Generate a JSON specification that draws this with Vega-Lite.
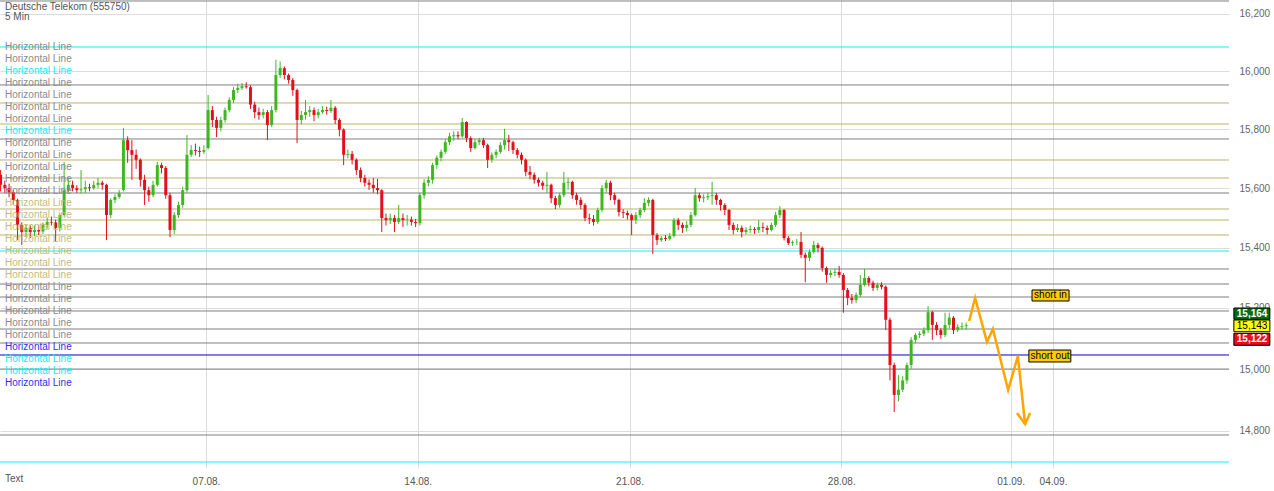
{
"$schema": "https://vega.github.io/schema/vega-lite/v6.json",
"width": 1229, "height": 468,
"autosize": {"type": "none"},
"padding": {"left": 0, "top": 0, "right": 45, "bottom": 23},
"background": "white",
"config": {"view": {"stroke": null}, "font": "Liberation Sans"},
"datasets": {
"candles": [
{"t":0.15,"o":15645,"h":15661,"l":15589,"c":15611},
{"t":0.25,"o":15611,"h":15625,"l":15584,"c":15600},
{"t":0.35,"o":15600,"h":15615,"l":15569,"c":15586},
{"t":0.45,"o":15586,"h":15594,"l":15544,"c":15560},
{"t":0.55,"o":15560,"h":15564,"l":15425,"c":15476},
{"t":0.65,"o":15476,"h":15484,"l":15409,"c":15452},
{"t":0.75,"o":15452,"h":15479,"l":15439,"c":15466},
{"t":0.85,"o":15466,"h":15474,"l":15432,"c":15452},
{"t":0.95,"o":15452,"h":15474,"l":15439,"c":15459},
{"t":1.05,"o":15459,"h":15476,"l":15442,"c":15454},
{"t":1.15,"o":15454,"h":15484,"l":15446,"c":15476},
{"t":1.25,"o":15476,"h":15499,"l":15464,"c":15486},
{"t":1.35,"o":15486,"h":15504,"l":15474,"c":15484},
{"t":1.45,"o":15484,"h":15494,"l":15419,"c":15466},
{"t":1.55,"o":15466,"h":15514,"l":15454,"c":15509},
{"t":1.65,"o":15509,"h":15689,"l":15504,"c":15593},
{"t":1.75,"o":15593,"h":15635,"l":15584,"c":15611},
{"t":1.85,"o":15611,"h":15625,"l":15589,"c":15600},
{"t":1.95,"o":15600,"h":15610,"l":15584,"c":15593},
{"t":2.05,"o":15593,"h":15661,"l":15582,"c":15596},
{"t":2.15,"o":15596,"h":15625,"l":15584,"c":15603},
{"t":2.25,"o":15603,"h":15615,"l":15589,"c":15600},
{"t":2.35,"o":15600,"h":15625,"l":15594,"c":15611},
{"t":2.45,"o":15611,"h":15635,"l":15599,"c":15618},
{"t":2.55,"o":15618,"h":15625,"l":15594,"c":15611},
{"t":2.65,"o":15611,"h":15615,"l":15425,"c":15509},
{"t":2.75,"o":15509,"h":15566,"l":15499,"c":15560},
{"t":2.85,"o":15560,"h":15579,"l":15549,"c":15570},
{"t":2.95,"o":15570,"h":15594,"l":15564,"c":15583},
{"t":3.05,"o":15594,"h":15805,"l":15589,"c":15763},
{"t":3.15,"o":15763,"h":15776,"l":15686,"c":15729},
{"t":3.25,"o":15729,"h":15763,"l":15628,"c":15713},
{"t":3.35,"o":15713,"h":15731,"l":15665,"c":15696},
{"t":3.45,"o":15696,"h":15701,"l":15605,"c":15628},
{"t":3.55,"o":15628,"h":15645,"l":15543,"c":15593},
{"t":3.65,"o":15593,"h":15605,"l":15554,"c":15576},
{"t":3.75,"o":15576,"h":15625,"l":15569,"c":15611},
{"t":3.85,"o":15611,"h":15689,"l":15605,"c":15678},
{"t":3.95,"o":15678,"h":15686,"l":15650,"c":15668},
{"t":4.05,"o":15668,"h":15675,"l":15564,"c":15576},
{"t":4.15,"o":15576,"h":15584,"l":15435,"c":15459},
{"t":4.25,"o":15459,"h":15519,"l":15446,"c":15509},
{"t":4.35,"o":15509,"h":15554,"l":15499,"c":15543},
{"t":4.45,"o":15543,"h":15605,"l":15534,"c":15593},
{"t":4.55,"o":15593,"h":15780,"l":15584,"c":15713},
{"t":4.65,"o":15713,"h":15746,"l":15706,"c":15729},
{"t":4.75,"o":15729,"h":15751,"l":15711,"c":15726},
{"t":4.85,"o":15726,"h":15741,"l":15706,"c":15723},
{"t":4.95,"o":15723,"h":15746,"l":15716,"c":15729},
{"t":5.05,"o":15736,"h":15918,"l":15731,"c":15866},
{"t":5.15,"o":15866,"h":15880,"l":15808,"c":15832},
{"t":5.25,"o":15832,"h":15843,"l":15773,"c":15805},
{"t":5.35,"o":15805,"h":15843,"l":15793,"c":15832},
{"t":5.45,"o":15832,"h":15875,"l":15823,"c":15866},
{"t":5.55,"o":15866,"h":15910,"l":15858,"c":15901},
{"t":5.65,"o":15901,"h":15945,"l":15890,"c":15935},
{"t":5.75,"o":15935,"h":15957,"l":15925,"c":15942},
{"t":5.85,"o":15942,"h":15960,"l":15935,"c":15948},
{"t":5.95,"o":15948,"h":15962,"l":15940,"c":15945},
{"t":6.05,"o":15945,"h":15952,"l":15870,"c":15885},
{"t":6.15,"o":15885,"h":15895,"l":15838,"c":15859},
{"t":6.25,"o":15859,"h":15875,"l":15833,"c":15849},
{"t":6.35,"o":15849,"h":15870,"l":15838,"c":15859},
{"t":6.45,"o":15859,"h":15866,"l":15763,"c":15815},
{"t":6.55,"o":15815,"h":15880,"l":15808,"c":15866},
{"t":6.65,"o":15866,"h":16040,"l":15858,"c":15987},
{"t":6.75,"o":15987,"h":16034,"l":15977,"c":16011},
{"t":6.85,"o":16011,"h":16017,"l":15972,"c":15987},
{"t":6.95,"o":15987,"h":15992,"l":15957,"c":15970},
{"t":7.05,"o":15970,"h":15977,"l":15915,"c":15935},
{"t":7.15,"o":15935,"h":15940,"l":15753,"c":15832},
{"t":7.25,"o":15832,"h":15863,"l":15818,"c":15849},
{"t":7.35,"o":15849,"h":15901,"l":15833,"c":15859},
{"t":7.45,"o":15859,"h":15880,"l":15843,"c":15866},
{"t":7.55,"o":15866,"h":15875,"l":15828,"c":15849},
{"t":7.65,"o":15849,"h":15870,"l":15838,"c":15859},
{"t":7.75,"o":15859,"h":15880,"l":15853,"c":15866},
{"t":7.85,"o":15866,"h":15878,"l":15850,"c":15863},
{"t":7.95,"o":15863,"h":15901,"l":15856,"c":15874},
{"t":8.05,"o":15874,"h":15880,"l":15818,"c":15832},
{"t":8.15,"o":15832,"h":15838,"l":15776,"c":15799},
{"t":8.25,"o":15799,"h":15803,"l":15678,"c":15713},
{"t":8.35,"o":15713,"h":15731,"l":15701,"c":15716},
{"t":8.45,"o":15716,"h":15726,"l":15680,"c":15696},
{"t":8.55,"o":15696,"h":15701,"l":15645,"c":15661},
{"t":8.65,"o":15661,"h":15670,"l":15620,"c":15634},
{"t":8.75,"o":15634,"h":15645,"l":15605,"c":15618},
{"t":8.85,"o":15618,"h":15630,"l":15594,"c":15611},
{"t":8.95,"o":15611,"h":15634,"l":15584,"c":15600},
{"t":9.05,"o":15600,"h":15631,"l":15579,"c":15593},
{"t":9.15,"o":15593,"h":15596,"l":15452,"c":15499},
{"t":9.25,"o":15499,"h":15514,"l":15474,"c":15492},
{"t":9.35,"o":15492,"h":15514,"l":15479,"c":15499},
{"t":9.45,"o":15499,"h":15509,"l":15452,"c":15486},
{"t":9.55,"o":15486,"h":15543,"l":15479,"c":15499},
{"t":9.65,"o":15499,"h":15514,"l":15469,"c":15492},
{"t":9.75,"o":15492,"h":15509,"l":15474,"c":15494},
{"t":9.85,"o":15494,"h":15504,"l":15474,"c":15486},
{"t":9.95,"o":15486,"h":15496,"l":15469,"c":15482},
{"t":10.05,"o":15482,"h":15584,"l":15474,"c":15576},
{"t":10.15,"o":15576,"h":15630,"l":15564,"c":15618},
{"t":10.25,"o":15618,"h":15640,"l":15605,"c":15628},
{"t":10.35,"o":15628,"h":15686,"l":15615,"c":15678},
{"t":10.45,"o":15678,"h":15711,"l":15665,"c":15703},
{"t":10.55,"o":15703,"h":15731,"l":15691,"c":15723},
{"t":10.65,"o":15723,"h":15766,"l":15716,"c":15756},
{"t":10.75,"o":15756,"h":15788,"l":15746,"c":15776},
{"t":10.85,"o":15776,"h":15793,"l":15761,"c":15780},
{"t":10.95,"o":15780,"h":15793,"l":15766,"c":15776},
{"t":11.05,"o":15776,"h":15839,"l":15771,"c":15825},
{"t":11.15,"o":15825,"h":15828,"l":15756,"c":15770},
{"t":11.25,"o":15770,"h":15776,"l":15723,"c":15736},
{"t":11.35,"o":15736,"h":15766,"l":15731,"c":15756},
{"t":11.45,"o":15756,"h":15771,"l":15746,"c":15763},
{"t":11.55,"o":15763,"h":15771,"l":15736,"c":15746},
{"t":11.65,"o":15746,"h":15751,"l":15668,"c":15696},
{"t":11.75,"o":15696,"h":15721,"l":15686,"c":15713},
{"t":11.85,"o":15713,"h":15731,"l":15701,"c":15723},
{"t":11.95,"o":15723,"h":15756,"l":15716,"c":15746},
{"t":12.05,"o":15746,"h":15802,"l":15731,"c":15763},
{"t":12.15,"o":15763,"h":15781,"l":15726,"c":15756},
{"t":12.25,"o":15756,"h":15761,"l":15716,"c":15729},
{"t":12.35,"o":15729,"h":15736,"l":15701,"c":15713},
{"t":12.45,"o":15713,"h":15721,"l":15680,"c":15696},
{"t":12.55,"o":15696,"h":15701,"l":15640,"c":15655},
{"t":12.65,"o":15655,"h":15675,"l":15630,"c":15645},
{"t":12.75,"o":15645,"h":15653,"l":15615,"c":15628},
{"t":12.85,"o":15628,"h":15635,"l":15605,"c":15618},
{"t":12.95,"o":15618,"h":15625,"l":15594,"c":15608},
{"t":13.05,"o":15608,"h":15655,"l":15584,"c":15611},
{"t":13.15,"o":15611,"h":15615,"l":15549,"c":15566},
{"t":13.25,"o":15566,"h":15574,"l":15529,"c":15543},
{"t":13.35,"o":15543,"h":15584,"l":15534,"c":15576},
{"t":13.45,"o":15576,"h":15655,"l":15569,"c":15618},
{"t":13.55,"o":15618,"h":15635,"l":15594,"c":15621},
{"t":13.65,"o":15621,"h":15625,"l":15564,"c":15576},
{"t":13.75,"o":15576,"h":15584,"l":15544,"c":15560},
{"t":13.85,"o":15560,"h":15569,"l":15529,"c":15543},
{"t":13.95,"o":15543,"h":15549,"l":15489,"c":15499},
{"t":14.05,"o":15499,"h":15514,"l":15479,"c":15496},
{"t":14.15,"o":15496,"h":15509,"l":15474,"c":15486},
{"t":14.25,"o":15486,"h":15534,"l":15479,"c":15526},
{"t":14.35,"o":15526,"h":15610,"l":15519,"c":15600},
{"t":14.45,"o":15600,"h":15628,"l":15584,"c":15618},
{"t":14.55,"o":15618,"h":15625,"l":15559,"c":15576},
{"t":14.65,"o":15576,"h":15584,"l":15544,"c":15560},
{"t":14.75,"o":15560,"h":15564,"l":15504,"c":15519},
{"t":14.85,"o":15519,"h":15529,"l":15499,"c":15516},
{"t":14.95,"o":15516,"h":15524,"l":15494,"c":15509},
{"t":15.05,"o":15509,"h":15514,"l":15442,"c":15492},
{"t":15.15,"o":15492,"h":15519,"l":15479,"c":15509},
{"t":15.25,"o":15509,"h":15534,"l":15499,"c":15526},
{"t":15.35,"o":15526,"h":15566,"l":15519,"c":15550},
{"t":15.45,"o":15550,"h":15569,"l":15539,"c":15560},
{"t":15.55,"o":15560,"h":15564,"l":15379,"c":15442},
{"t":15.65,"o":15442,"h":15449,"l":15409,"c":15425},
{"t":15.75,"o":15425,"h":15439,"l":15419,"c":15432},
{"t":15.85,"o":15432,"h":15442,"l":15422,"c":15429},
{"t":15.95,"o":15429,"h":15449,"l":15424,"c":15439},
{"t":16.05,"o":15439,"h":15499,"l":15434,"c":15492},
{"t":16.15,"o":15492,"h":15499,"l":15459,"c":15476},
{"t":16.25,"o":15476,"h":15484,"l":15449,"c":15466},
{"t":16.35,"o":15466,"h":15489,"l":15454,"c":15476},
{"t":16.45,"o":15476,"h":15519,"l":15469,"c":15509},
{"t":16.55,"o":15509,"h":15600,"l":15504,"c":15576},
{"t":16.65,"o":15576,"h":15584,"l":15554,"c":15566},
{"t":16.75,"o":15566,"h":15579,"l":15552,"c":15569},
{"t":16.85,"o":15569,"h":15584,"l":15559,"c":15573},
{"t":16.95,"o":15573,"h":15621,"l":15544,"c":15576},
{"t":17.05,"o":15576,"h":15584,"l":15544,"c":15560},
{"t":17.15,"o":15560,"h":15564,"l":15524,"c":15543},
{"t":17.25,"o":15543,"h":15549,"l":15509,"c":15526},
{"t":17.35,"o":15526,"h":15529,"l":15459,"c":15476},
{"t":17.45,"o":15476,"h":15484,"l":15444,"c":15459},
{"t":17.55,"o":15459,"h":15479,"l":15452,"c":15466},
{"t":17.65,"o":15466,"h":15474,"l":15434,"c":15452},
{"t":17.75,"o":15452,"h":15469,"l":15444,"c":15459},
{"t":17.85,"o":15459,"h":15474,"l":15449,"c":15462},
{"t":17.95,"o":15462,"h":15469,"l":15446,"c":15459},
{"t":18.05,"o":15459,"h":15492,"l":15449,"c":15469},
{"t":18.15,"o":15469,"h":15484,"l":15452,"c":15466},
{"t":18.25,"o":15466,"h":15474,"l":15444,"c":15459},
{"t":18.35,"o":15459,"h":15484,"l":15454,"c":15476},
{"t":18.45,"o":15476,"h":15519,"l":15469,"c":15509},
{"t":18.55,"o":15509,"h":15539,"l":15499,"c":15526},
{"t":18.65,"o":15526,"h":15529,"l":15424,"c":15432},
{"t":18.75,"o":15432,"h":15439,"l":15409,"c":15415},
{"t":18.85,"o":15415,"h":15424,"l":15406,"c":15418},
{"t":18.95,"o":15418,"h":15429,"l":15409,"c":15419},
{"t":19.05,"o":15419,"h":15452,"l":15365,"c":15376},
{"t":19.15,"o":15376,"h":15384,"l":15285,"c":15366},
{"t":19.25,"o":15366,"h":15394,"l":15355,"c":15385},
{"t":19.35,"o":15385,"h":15422,"l":15380,"c":15409},
{"t":19.45,"o":15409,"h":15416,"l":15384,"c":15399},
{"t":19.55,"o":15399,"h":15404,"l":15320,"c":15332},
{"t":19.65,"o":15332,"h":15337,"l":15283,"c":15309},
{"t":19.75,"o":15309,"h":15325,"l":15300,"c":15316},
{"t":19.85,"o":15316,"h":15330,"l":15305,"c":15319},
{"t":19.95,"o":15319,"h":15339,"l":15300,"c":15309},
{"t":20.05,"o":15309,"h":15315,"l":15184,"c":15259},
{"t":20.15,"o":15259,"h":15266,"l":15209,"c":15233},
{"t":20.25,"o":15233,"h":15246,"l":15214,"c":15226},
{"t":20.35,"o":15226,"h":15251,"l":15216,"c":15243},
{"t":20.45,"o":15243,"h":15309,"l":15236,"c":15276},
{"t":20.55,"o":15276,"h":15329,"l":15271,"c":15299},
{"t":20.65,"o":15299,"h":15305,"l":15271,"c":15283},
{"t":20.75,"o":15283,"h":15290,"l":15256,"c":15266},
{"t":20.85,"o":15266,"h":15284,"l":15258,"c":15276},
{"t":20.95,"o":15276,"h":15285,"l":15261,"c":15270},
{"t":21.05,"o":15270,"h":15274,"l":15127,"c":15161},
{"t":21.15,"o":15161,"h":15168,"l":14963,"c":15013},
{"t":21.25,"o":15013,"h":15021,"l":14861,"c":14916},
{"t":21.35,"o":14916,"h":14980,"l":14895,"c":14933},
{"t":21.45,"o":14933,"h":14977,"l":14925,"c":14963},
{"t":21.55,"o":14963,"h":15021,"l":14952,"c":15013},
{"t":21.65,"o":15013,"h":15104,"l":15001,"c":15095},
{"t":21.75,"o":15095,"h":15118,"l":15084,"c":15111},
{"t":21.85,"o":15111,"h":15123,"l":15101,"c":15115},
{"t":21.95,"o":15115,"h":15136,"l":15107,"c":15127},
{"t":22.05,"o":15127,"h":15206,"l":15118,"c":15186},
{"t":22.15,"o":15186,"h":15191,"l":15095,"c":15144},
{"t":22.25,"o":15144,"h":15153,"l":15111,"c":15127},
{"t":22.35,"o":15127,"h":15133,"l":15099,"c":15111},
{"t":22.45,"o":15111,"h":15184,"l":15104,"c":15144},
{"t":22.55,"o":15144,"h":15184,"l":15133,"c":15168},
{"t":22.65,"o":15168,"h":15173,"l":15114,"c":15127},
{"t":22.75,"o":15127,"h":15146,"l":15120,"c":15137},
{"t":22.85,"o":15137,"h":15152,"l":15128,"c":15140},
{"t":22.95,"o":15140,"h":15152,"l":15128,"c":15143}
],
"levels": [
{"p":16245.7,"k":"gray"},{"p":16084.5,"k":"cyan"},{"p":15952.6,"k":"gray"},{"p":15890.5,"k":"olive"},{"p":15818.3,"k":"olive"},{"p":15766.9,"k":"gray"},{"p":15695.3,"k":"olive"},{"p":15634.2,"k":"olive"},{"p":15583.4,"k":"gray"},{"p":15529.5,"k":"olive"},{"p":15492.5,"k":"olive"},{"p":15442.2,"k":"olive"},{"p":15388.7,"k":"cyan"},{"p":15328.8,"k":"gray"},{"p":15279,"k":"gray"},{"p":15236,"k":"gray"},{"p":15189.9,"k":"gray"},{"p":15130.7,"k":"gray"},{"p":15084.9,"k":"gray"},{"p":15045.7,"k":"blue"},{"p":14999.9,"k":"gray"},{"p":14787,"k":"gray"},{"p":14700.7,"k":"cyan"}
],
"labels": [
{"row":1,"k":"gray"},{"row":2,"k":"gray"},{"row":3,"k":"cyan"},{"row":4,"k":"gray"},{"row":5,"k":"gray"},{"row":6,"k":"gray"},{"row":7,"k":"gray"},{"row":8,"k":"cyan"},{"row":9,"k":"gray"},{"row":10,"k":"gray"},{"row":11,"k":"gray"},{"row":12,"k":"gray"},{"row":13,"k":"gray"},{"row":14,"k":"olive"},{"row":15,"k":"olive"},{"row":16,"k":"olive"},{"row":17,"k":"olive"},{"row":18,"k":"olive"},{"row":19,"k":"olive"},{"row":20,"k":"olive"},{"row":21,"k":"gray"},{"row":22,"k":"gray"},{"row":23,"k":"gray"},{"row":24,"k":"gray"},{"row":25,"k":"gray"},{"row":26,"k":"blue"},{"row":27,"k":"cyan"},{"row":28,"k":"cyan"},{"row":29,"k":"blue"}
],
"arrow": [
{"g":1,"s":1,"t":23.02,"p":15157},{"g":1,"s":2,"t":23.16,"p":15232.7},{"g":1,"s":3,"t":23.44,"p":15088.1},{"g":1,"s":4,"t":23.58,"p":15130.7},{"g":1,"s":5,"t":23.94,"p":14931.9},{"g":1,"s":6,"t":24.17,"p":15042.4},{"g":1,"s":7,"t":24.34,"p":14822.3},
{"g":2,"s":1,"t":24.15,"p":14857.7},{"g":2,"s":2,"t":24.34,"p":14822.3},{"g":2,"s":3,"t":24.46,"p":14857.7}
]
},
"layer": [
{"layer": [
 {"data": {"name": "levels"},
  "mark": {"type": "rule", "strokeWidth": 1},
  "encoding": {
   "y": {"field": "p", "type": "quantitative", "scale": {"type": "log", "domain": [14681.6, 16249.2], "nice": false, "zero": false, "padding": 0},
     "axis": {"orient": "right", "values": [14800,15000,15200,15400,15600,15800,16000,16200], "labelExpr": "format(datum.value, ',.0f')", "grid": true, "gridColor": "#dcdcdc", "ticks": false, "domain": false, "labelColor": "#666666", "labelFontSize": 10, "labelPadding": 10, "labelBound": false, "title": null}},
   "color": {"field": "k", "type": "nominal", "scale": {"domain": ["gray","olive","cyan","blue"], "range": ["#7f7f7f","#bcb46a","#12eef6","#0000c8"]}, "legend": null}
  }},
 {"data": {"name": "candles"},
  "mark": {"type": "rule", "strokeWidth": 1},
  "encoding": {
   "x": {"field": "t", "type": "quantitative", "scale": {"domain": [0.136, 29.155], "nice": false, "zero": false, "padding": 0},
     "axis": {"values": [5,10,15,20,24,25], "labelExpr": "datum.value==5?'07.08.':datum.value==10?'14.08.':datum.value==15?'21.08.':datum.value==20?'28.08.':datum.value==24?'01.09.':'04.09.'", "grid": true, "gridColor": "#dcdcdc", "ticks": false, "domain": false, "labelColor": "#555555", "labelFontSize": 10, "labelPadding": 8, "labelOverlap": false, "labelFlush": false, "title": null}},
   "y": {"field": "l", "type": "quantitative"},
   "y2": {"field": "h"},
   "color": {"condition": {"test": "datum.c >= datum.o", "value": "#3db81f"}, "value": "#e3101b"}
  }},
 {"data": {"name": "candles"},
  "mark": {"type": "bar", "width": 3},
  "encoding": {
   "x": {"field": "t", "type": "quantitative"},
   "y": {"field": "o", "type": "quantitative"},
   "y2": {"field": "c"},
   "color": {"condition": {"test": "datum.c >= datum.o", "value": "#3db81f"}, "value": "#e3101b"}
  }},
 {"data": {"name": "arrow"},
  "mark": {"type": "line", "color": "#ffa500", "strokeWidth": 2.5},
  "encoding": {
   "x": {"field": "t", "type": "quantitative"},
   "y": {"field": "p", "type": "quantitative"},
   "detail": {"field": "g"},
   "order": {"field": "s"}
  }},
 {"data": {"values": [{}]},
  "mark": {"type": "rect", "fill": "#ffcc00", "stroke": "#000000", "strokeWidth": 1},
  "encoding": {"x": {"datum": 24.504}, "x2": {"datum": 25.378}, "y": {"datum": 15259.2}, "y2": {"datum": 15222.8}}},
 {"data": {"values": [{}]},
  "mark": {"type": "rect", "fill": "#ffcc00", "stroke": "#000000", "strokeWidth": 1},
  "encoding": {"x": {"datum": 24.43}, "x2": {"datum": 25.42}, "y": {"datum": 15061.9}, "y2": {"datum": 15022.9}}},
 {"data": {"values": [{"txt": "short in", "t": 24.94, "p": 15241}, {"txt": "short out", "t": 24.93, "p": 15042.4}]},
  "mark": {"type": "text", "fontSize": 10, "color": "#000000", "align": "center", "baseline": "middle"},
  "encoding": {"x": {"field": "t", "type": "quantitative"}, "y": {"field": "p", "type": "quantitative"}, "text": {"field": "txt"}}},
 {"data": {"values": [{}]},
  "mark": {"type": "rect", "fill": "#0b6a10", "stroke": "#000000", "strokeWidth": 1},
  "encoding": {"x": {"datum": 29.27}, "x2": {"datum": 30.12}, "y": {"datum": 15199.7}, "y2": {"datum": 15162.5}}},
 {"data": {"values": [{}]},
  "mark": {"type": "rect", "fill": "#ffff00", "stroke": "#000000", "strokeWidth": 1},
  "encoding": {"x": {"datum": 29.27}, "x2": {"datum": 30.12}, "y": {"datum": 15160.3}, "y2": {"datum": 15121.8}}},
 {"data": {"values": [{}]},
  "mark": {"type": "rect", "fill": "#e3101b", "stroke": "#000000", "strokeWidth": 1},
  "encoding": {"x": {"datum": 29.27}, "x2": {"datum": 30.12}, "y": {"datum": 15116.6}, "y2": {"datum": 15077.3}}},
 {"data": {"values": [{"txt": "15,164", "p": 15180.6}]},
  "mark": {"type": "text", "fontSize": 10, "fontWeight": "bold", "color": "#ffffff", "align": "center", "baseline": "middle"},
  "encoding": {"x": {"datum": 29.70}, "y": {"field": "p", "type": "quantitative"}, "text": {"field": "txt"}}},
 {"data": {"values": [{"txt": "15,143", "p": 15141.2}]},
  "mark": {"type": "text", "fontSize": 10, "color": "#000000", "align": "center", "baseline": "middle"},
  "encoding": {"x": {"datum": 29.70}, "y": {"field": "p", "type": "quantitative"}, "text": {"field": "txt"}}},
 {"data": {"values": [{"txt": "15,122", "p": 15097}]},
  "mark": {"type": "text", "fontSize": 10, "fontWeight": "bold", "color": "#ffffff", "align": "center", "baseline": "middle"},
  "encoding": {"x": {"datum": 29.70}, "y": {"field": "p", "type": "quantitative"}, "text": {"field": "txt"}}},
 {"data": {"values": [{"txt": "Text", "p": 14646.6}, {"txt": "Deutsche Telekom (555750)", "p": 16224.6}, {"txt": "5 Min", "p": 16189.5}]},
  "mark": {"type": "text", "fontSize": 10, "color": "#555555", "align": "left", "baseline": "middle"},
  "encoding": {"x": {"datum": 0.254}, "y": {"field": "p", "type": "quantitative"}, "text": {"field": "txt"}}}
]},
{"data": {"name": "labels"},
 "mark": {"type": "text", "align": "left", "baseline": "middle", "fontSize": 10},
 "encoding": {
  "x": {"datum": 0.254},
  "y": {"field": "row", "type": "quantitative", "scale": {"domain": [-2.917, 36.083], "reverse": true, "nice": false, "zero": false}, "axis": null},
  "text": {"value": "Horizontal Line"},
  "fill": {"field": "k", "type": "nominal", "scale": {"domain": ["gray","olive","cyan","blue"], "range": ["#8a8a8a","#c4ba7c","#1ee6f2","#3030f0"]}, "legend": null}
 }}
],
"resolve": {"scale": {"y": "independent"}}
}
